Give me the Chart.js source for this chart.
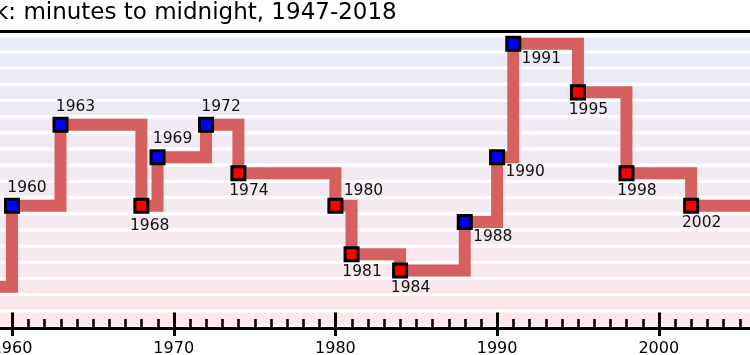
<!DOCTYPE html>
<html>
<head>
<meta charset="utf-8">
<script src="https://cdn.jsdelivr.net/npm/chart.js@4/dist/chart.umd.min.js"></script>
<style>
  html, body { margin: 0; padding: 0; background: #fff; }
  #c { display: block; }
</style>
</head>
<body>
<canvas id="c" width="750" height="355"></canvas>
<script>
// ---- data ----
const titleText = 'k: minutes to midnight, 1947-2018';
const years   = [1947, 1949, 1953, 1960, 1963, 1968, 1969, 1972, 1974, 1980, 1981, 1984, 1988, 1990, 1991, 1995, 1998, 2002, 2007, 2010, 2012, 2015, 2017, 2018];
const minutes = [7,    3,    2,    7,    12,   7,    10,   12,   9,    7,    4,    3,    6,    10,   17,   14,   9,    7,    5,    6,    5,    3,    2.5,  2];
const bandMinutes = [0,1,2,3,4,5,6,7,8,9,10,11,12,13,14,15,16,17];
const tickYears = [1960, 1970, 1980, 1990, 2000];

// ---- styling ----
const LINE_COLOR = 'rgb(214,96,96)';
const TOP_BAND = [233, 235, 249];
const BOTTOM_BAND = [253, 231, 233];
const labelOffsets = {
  up:   [15, -18],
  down: [10.5, 17.2],
  se:   [28, 15.2],
  ne:   [28, -15]
};
const labelPlacement = {1980: 'ne', 1988: 'se', 1990: 'se', 1991: 'se', 1968: 'down8'};

const points = years.map((y, i) => ({x: y, y: minutes[i]}));
const pointColors = minutes.map((m, i) => (i > 0 && m < minutes[i - 1]) ? '#ff0000' : '#0000ff');

function bandColor(v) {
  const t = v / 17;
  const c = TOP_BAND.map((top, k) => Math.round(BOTTOM_BAND[k] + (top - BOTTOM_BAND[k]) * t));
  return `rgb(${c[0]},${c[1]},${c[2]})`;
}

const bandsPlugin = {
  id: 'bands',
  beforeDatasetsDraw(chart) {
    const {ctx, chartArea: a, scales: {y}} = chart;
    ctx.save();
    ctx.beginPath();
    ctx.rect(a.left, a.top, a.right - a.left, a.bottom - a.top);
    ctx.clip();
    bandMinutes.forEach(v => {
      const y1 = y.getPixelForValue(v + 0.4);
      const y2 = y.getPixelForValue(v - 0.4);
      ctx.fillStyle = bandColor(v);
      ctx.fillRect(a.left, y1, a.right - a.left, y2 - y1);
    });
    ctx.restore();
  }
};

const decorPlugin = {
  id: 'decor',
  afterDatasetsDraw(chart) {
    const {ctx, chartArea: a, scales: {x, y}} = chart;
    ctx.save();
    ctx.font = '15.5px "DejaVu Sans"';
    ctx.fillStyle = '#111';
    ctx.textAlign = 'center';
    ctx.textBaseline = 'middle';
    years.forEach((yr, i) => {
      if (yr < x.min || yr > x.max) return;
      const px = x.getPixelForValue(yr);
      const py = y.getPixelForValue(minutes[i]);
      let place = labelPlacement[yr] || (pointColors[i] === '#0000ff' ? 'up' : 'down');
      let off = labelOffsets[place] || [8.3, 20];
      ctx.fillText(String(yr), px + off[0], py + off[1]);
    });
    ctx.restore();
  },
  afterDraw(chart) {
    const {ctx, chartArea: a, scales: {x}} = chart;
    ctx.save();
    ctx.strokeStyle = '#000';
    x.ticks.forEach(t => {
      const px = Math.round(x.getPixelForValue(t.value)) + 0.5;
      const major = t.value % 10 === 0;
      ctx.lineWidth = major ? 3 : 2.6;
      ctx.beginPath();
      if (major) {
        ctx.moveTo(px, a.bottom - 15.5);
        ctx.lineTo(px, a.bottom + 8);
      } else {
        ctx.moveTo(px, a.bottom - 9);
        ctx.lineTo(px, a.bottom);
      }
      ctx.stroke();
    });
    ctx.lineWidth = 3;
    ctx.beginPath();
    ctx.moveTo(0, a.top);
    ctx.lineTo(chart.width, a.top);
    ctx.stroke();
    ctx.font = '23px "DejaVu Sans"';
    ctx.fillStyle = '#000';
    ctx.textAlign = 'left';
    ctx.textBaseline = 'alphabetic';
    ctx.fillText(titleText, -5, 19);
    ctx.restore();
  }
};

new Chart(document.getElementById('c'), {
  type: 'line',
  data: {
    datasets: [{
      data: points,
      stepped: true,
      borderColor: LINE_COLOR,
      borderWidth: 12,
      borderJoinStyle: 'miter',
      borderCapStyle: 'butt',
      fill: false,
      clip: 0,
      pointStyle: 'rect',
      pointRadius: 9.2,
      pointHoverRadius: 9.2,
      pointBorderWidth: 3,
      pointBorderColor: '#000',
      pointBackgroundColor: pointColors
    }]
  },
  options: {
    responsive: false,
    devicePixelRatio: 1,
    animation: false,
    events: [],
    layout: { autoPadding: false, padding: { top: 31.5, left: 0, right: 0, bottom: 0 } },
    plugins: { legend: { display: false }, tooltip: { enabled: false }, title: { display: false } },
    scales: {
      x: {
        type: 'linear',
        position: 'bottom',
        min: 1959.258,
        max: 2005.64,
        afterFit(s) { s.height = 27; s.paddingLeft = 0; s.paddingRight = 0; },
        grid: { display: false, drawTicks: false },
        border: { display: true, color: '#000', width: 3 },
        ticks: {
          stepSize: 1,
          includeBounds: false,
          autoSkip: false,
          maxRotation: 0,
          padding: 11,
          color: '#000',
          font: { family: '"DejaVu Sans"', size: 16 },
          callback: v => tickYears.includes(v) ? String(v) : ''
        }
      },
      y: {
        display: false,
        min: -0.554,
        max: 17.76
      }
    }
  },
  plugins: [bandsPlugin, decorPlugin]
});
</script>
</body>
</html>
